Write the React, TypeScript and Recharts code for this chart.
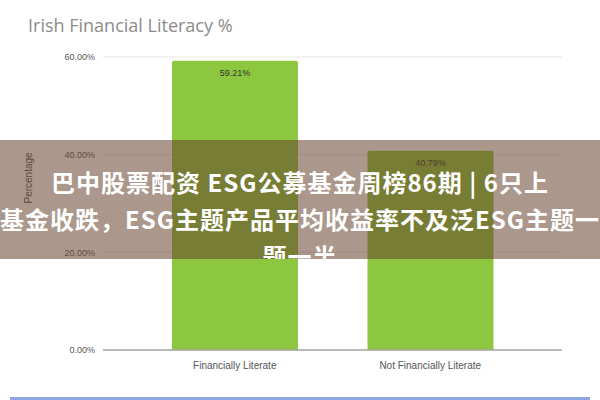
import { BarChart, Bar, XAxis, YAxis, CartesianGrid, LabelList, Label } from 'recharts';

const categories = ['Financially Literate', 'Not Financially Literate'];
const shares = [59.21, 40.79];
const yTicks = [0, 20, 40, 60];

const bannerLines = [
  '巴中股票配资 ESG公募基金周榜86期 | 6只上',
  '基金收跌，ESG主题产品平均收益率不及泛ESG主题一',
  '题一半',
];

const data = categories.map((name, i) => ({ name, value: shares[i] }));
const pct = (v: number) => `${v.toFixed(2)}%`;

export default function App() {
  return (
    <div style={{ position: 'fixed', left: 0, top: 0, width: 600, height: 400, background: '#fff', overflow: 'hidden', fontFamily: '"Liberation Sans", Arial, sans-serif' }}>
      <div style={{ position: 'absolute', left: 28, top: 13, fontSize: 18, color: '#8c8c8c', fontFamily: '"Open Sans", sans-serif' }}>
        Irish Financial Literacy %
      </div>
      <BarChart width={600} height={400} data={data} margin={{ top: 57, right: 38, bottom: 20, left: 24 }}>
        <CartesianGrid vertical={false} stroke="#e6e6e6" />
        <XAxis
          dataKey="name"
          height={30}
          padding={{ left: 34, right: 34 }}
          tickLine={false}
          axisLine={{ stroke: '#a6a6a6', strokeWidth: 1.5 }}
          tick={{ fontSize: 10, fill: '#555' }}
          tickMargin={6}
        />
        <YAxis
          width={79}
          domain={[0, 60]}
          ticks={yTicks}
          tickFormatter={pct}
          axisLine={false}
          tickLine={false}
          tick={{ fontSize: 9, fill: '#555' }}
        >
          <Label value="Percentage" angle={-90} position="insideLeft" offset={4} style={{ fontSize: 10, fill: '#555' }} />
        </YAxis>
        <Bar dataKey="value" fill="#8dc63f" barSize={126} radius={[2, 2, 0, 0]} isAnimationActive={false}>
          <LabelList dataKey="value" position="insideTop" offset={9} formatter={(v: number) => pct(v)} style={{ fontSize: 9, fill: '#333' }} />
        </Bar>
      </BarChart>
      <div style={{ position: 'absolute', left: 0, top: 140, width: 600, height: 119, background: 'rgba(102,66,44,0.55)', overflow: 'hidden' }}>
        {bannerLines.map((line, i) => (
          <div
            key={i}
            style={{
              position: 'absolute',
              left: -100,
              width: 800,
              top: 24 + i * 37,
              textAlign: 'center',
              whiteSpace: 'nowrap',
              color: '#fff',
              fontWeight: 700,
              fontSize: 24,
              letterSpacing: 1,
              lineHeight: '36px',
              fontFamily: '"Noto Sans CJK SC", sans-serif',
            }}
          >
            {line}
          </div>
        ))}
      </div>
      <div style={{ position: 'absolute', left: 10, right: 10, top: 397, height: 3, background: '#8ea6e2' }} />
    </div>
  );
}
